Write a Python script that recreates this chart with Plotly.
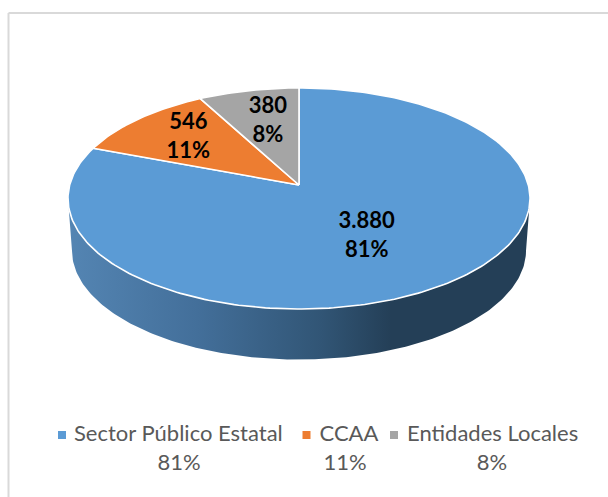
import math
import plotly.graph_objects as go

categories = ["Sector Público Estatal", "CCAA", "Entidades Locales"]
values = [3880, 546, 380]
value_labels = ["3.880", "546", "380"]
shares = ["81%", "11%", "8%"]
colors = ["#5B9BD5", "#ED7D31", "#A5A5A5"]

CX, CY = 299.0, 185.0   # pixel position of the pie apex
A, B, K = 229.3, 108.9, 0.122  # perspective of the tilted disc
WALL = 52.0
LABEL_R = {"Sector Público Estatal": 0.50, "CCAA": 0.72, "Entidades Locales": 0.65}
LABEL_DX = {"Sector Público Estatal": -1, "CCAA": 7, "Entidades Locales": 3}
LABEL_DY = {"Sector Público Estatal": 5, "CCAA": 2, "Entidades Locales": 1}


def rim(deg, r=1.0):
    t = math.radians(deg)
    x, y = r * math.sin(t), r * math.cos(t)
    w = 1 + K * y
    return CX + A * x / w, CY - B * y / w


def arc(a0, a1, step=1.0):
    n = max(2, int(abs(a1 - a0) / step))
    return [rim(a0 + (a1 - a0) * i / n) for i in range(n + 1)]


fig = go.Figure()

# side wall with its left-to-right shading
ell_cy = (rim(0)[1] + rim(180)[1]) / 2
ell_ry = (rim(180)[1] - rim(0)[1]) / 2
ell_rx = A / math.sqrt(1 - K * K)
low_rx = ell_rx - 4
wx, wy = [], []
for i in range(0, 181):
    t = math.radians(i)
    wx.append(CX - low_rx * math.cos(t))
    wy.append(ell_cy + WALL + (ell_ry - 1.5) * math.sin(t))
for i in range(180, -1, -1):
    t = math.radians(i)
    wx.append(CX - ell_rx * math.cos(t))
    wy.append(ell_cy + ell_ry * math.sin(t))
fig.add_trace(go.Scatter(
    x=wx, y=wy, mode="lines", line=dict(width=0), fill="toself",
    fillcolor="#3A6690",
    fillgradient=dict(type="horizontal", colorscale=[
        [0.0, "#5485B3"], [0.28, "#436F9A"], [0.55, "#315575"],
        [0.70, "#243F57"], [1.0, "#243F57"]]),
    hoverinfo="skip", showlegend=False))

# top face, one wedge per value, clockwise from 12 o'clock
total = sum(values)
angle = 0.0
mids = []
for cat, val, col in zip(categories, values, colors):
    sweep = 360.0 * val / total
    pts = arc(angle, angle + sweep)
    mids.append(angle + sweep / 2)
    angle += sweep
    xs = [CX] + [p[0] for p in pts] + [CX]
    ys = [CY] + [p[1] for p in pts] + [CY]
    fig.add_trace(go.Scatter(
        x=xs, y=ys, mode="lines", fill="toself", fillcolor=col,
        line=dict(color="white", width=1.6), name=cat,
        hoverinfo="skip", showlegend=False))

# data labels
for cat, vl, sh, mid in zip(categories, value_labels, shares, mids):
    lx, ly = rim(mid, LABEL_R[cat])
    fig.add_trace(go.Scatter(
        x=[lx + LABEL_DX[cat]], y=[ly + LABEL_DY[cat]], mode="text", text=[f"{vl}<br>{sh}"],
        textposition="middle center",
        textfont=dict(family="Lato", size=22, color="#000000", weight="bold"),
        hoverinfo="skip", showlegend=False))

# legend written out below the pie
LEG_MARK_X = [62, 306.5, 394]
LEG_TEXT_X = [74, 319.5, 407]
LEG_SHARE_X = [179, 345, 492]
LEG_Y1, LEG_Y2 = 435, 464
for i, cat in enumerate(categories):
    fig.add_trace(go.Scatter(
        x=[LEG_MARK_X[i]], y=[LEG_Y1], mode="markers",
        marker=dict(symbol="square", size=8, color=colors[i]),
        hoverinfo="skip", showlegend=False))
    fig.add_trace(go.Scatter(
        x=[LEG_TEXT_X[i]], y=[LEG_Y1], mode="text", text=[cat], textposition="middle right",
        textfont=dict(family="Lato", size=22, color="#595959"),
        hoverinfo="skip", showlegend=False))
    fig.add_trace(go.Scatter(
        x=[LEG_SHARE_X[i]], y=[LEG_Y2], mode="text", text=[shares[i]], textposition="middle center",
        textfont=dict(family="Lato", size=22, color="#595959"),
        hoverinfo="skip", showlegend=False))

fig.update_layout(
    width=608, height=497, autosize=False,
    margin=dict(l=0, r=0, t=0, b=0),
    paper_bgcolor="white", plot_bgcolor="white",
    xaxis=dict(range=[0, 608], visible=False, fixedrange=True),
    yaxis=dict(range=[497, 0], visible=False, fixedrange=True),
    shapes=[
        dict(type="line", x0=8.5, y0=13, x1=608, y1=13, line=dict(color="#D9D9D9", width=2)),
        dict(type="line", x0=8.5, y0=13, x1=8.5, y1=497, line=dict(color="#D9D9D9", width=2)),
    ],
)
fig.write_html("out.html", config={"displayModeBar": False},
               post_script="document.body.style.margin='0';")
